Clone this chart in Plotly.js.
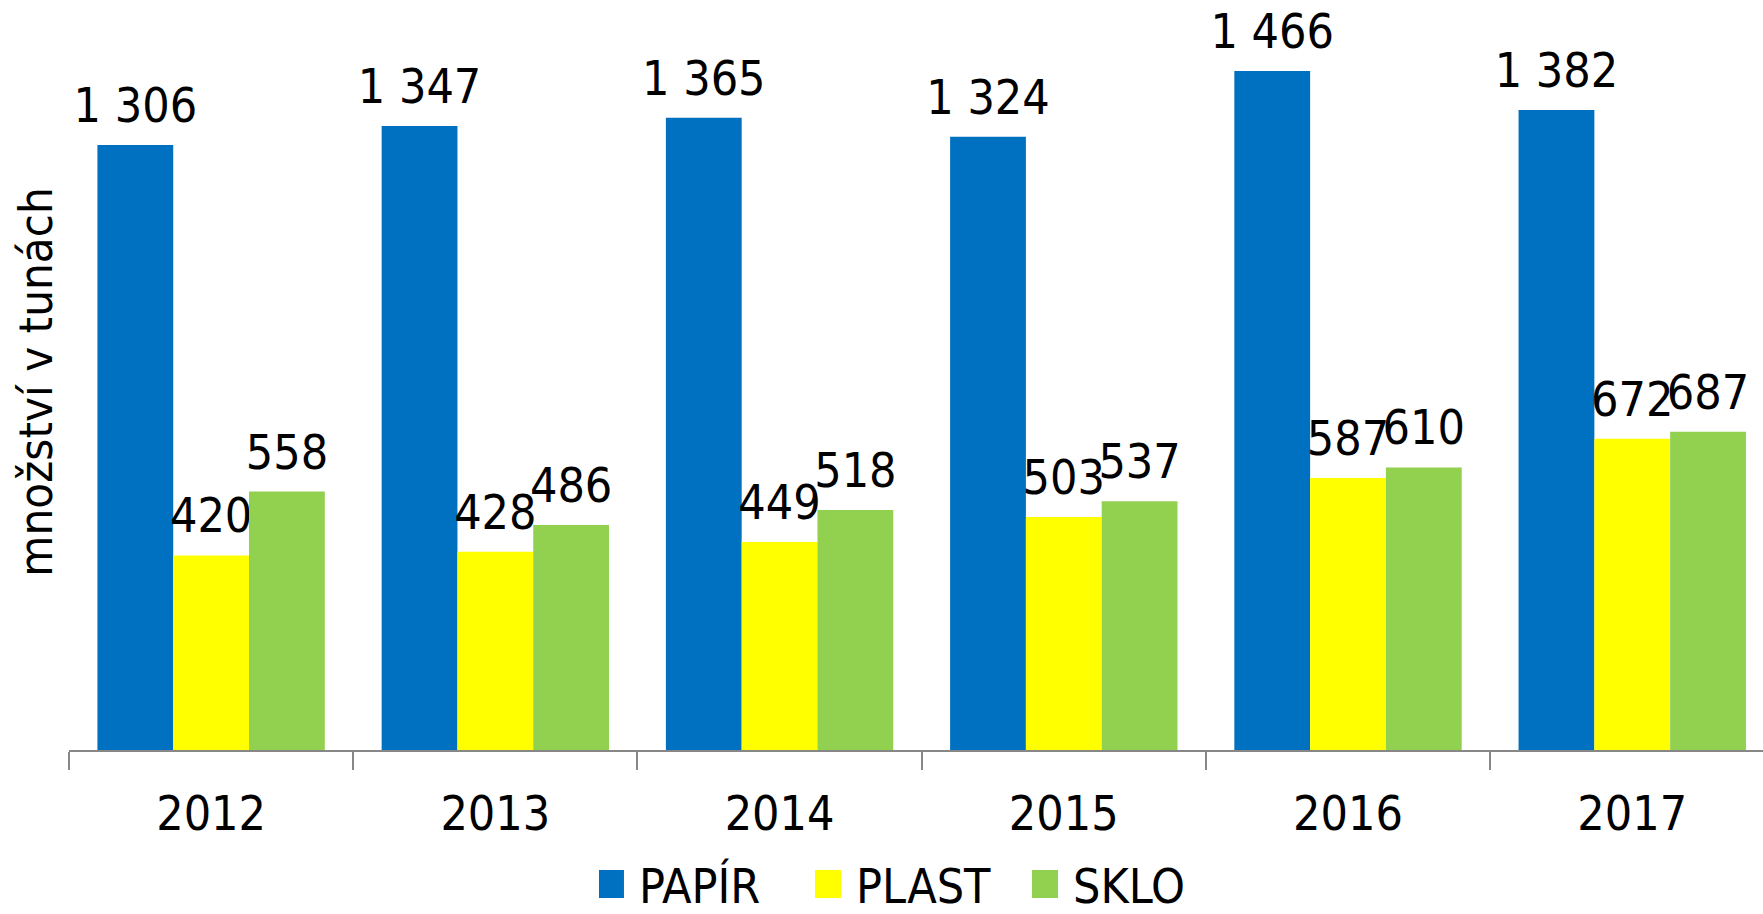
<!DOCTYPE html>
<html>
<head>
<meta charset="utf-8">
<script src="https://cdn.plot.ly/plotly-3.0.1.min.js"></script>
<style>
html,body{margin:0;padding:0;background:#fff;}
#chart{width:1763px;height:914px;}
</style>
</head>
<body>
<div id="chart"></div>
<script>
const years = ['2012', '2013', '2014', '2015', '2016', '2017'];
const papir = [1306, 1347, 1365, 1324, 1466, 1382];
const plast = [420, 428, 449, 503, 587, 672];
const sklo = [558, 486, 518, 537, 610, 687];
const seriesNames = ['PAPÍR', 'PLAST', 'SKLO'];
const seriesColors = ['#0070C0', '#FFFF00', '#92D050'];
const yTitle = 'množství v tunách';

const FONT = '"DejaVu Sans Condensed", "DejaVu Sans", sans-serif';
const labelFont = {family: FONT, size: 48, color: '#000000'};

function makeTrace(vals, i) {
  return {
    type: 'bar',
    x: years,
    y: vals,
    name: seriesNames[i],
    marker: {color: seriesColors[i], line: {width: 0}},
    texttemplate: '%{y:,}',
    textposition: 'outside',
    outsidetextfont: labelFont,
    constraintext: 'none',
    cliponaxis: false,
    hoverinfo: 'skip'
  };
}

const data = [makeTrace(papir, 0), makeTrace(plast, 1), makeTrace(sklo, 2)];

const layout = {
  width: 1763,
  height: 914,
  margin: {l: 69, r: 0, t: 14, b: 164, pad: 0},
  paper_bgcolor: '#ffffff',
  plot_bgcolor: '#ffffff',
  separators: ', ',
  barmode: 'group',
  bargap: 0.2,
  bargroupgap: 0,
  font: {family: FONT, color: '#000000', size: 48},
  showlegend: true,
  legend: {
    orientation: 'h',
    x: 0.505,
    xanchor: 'center',
    y: -0.222,
    yanchor: 'bottom',
    itemwidth: 30,
    entrywidth: 172,
    entrywidthmode: 'pixels',
    font: {family: FONT, size: 48, color: '#000000'},
    traceorder: 'normal',
    itemclick: false,
    itemdoubleclick: false
  },
  xaxis: {
    type: 'category',
    range: [-0.5, 5.46],
    showline: true,
    linecolor: '#878787',
    linewidth: 2,
    ticks: 'outside',
    tickson: 'boundaries',
    ticklen: 18,
    tickwidth: 2,
    tickcolor: '#878787',
    ticklabelstandoff: 20,
    showgrid: false,
    zeroline: false,
    tickfont: {family: FONT, size: 48, color: '#000000'},
    automargin: false
  },
  yaxis: {
    range: [0, 1589],
    showticklabels: false,
    showline: false,
    showgrid: false,
    zeroline: false,
    ticks: '',
    automargin: false,
    title: {text: yTitle, font: {family: FONT, size: 47, color: '#000000'}, standoff: 0}
  }
};

Plotly.newPlot('chart', data, layout, {staticPlot: true, displayModeBar: false}).then(function () {
  document.querySelectorAll('.legend .legendpoints path').forEach(function (p) {
    p.setAttribute('d', 'M5,14H-21V-14H5Z');
  });
  document.querySelectorAll('text.bartext').forEach(function (t) {
    t.setAttribute('transform', (t.getAttribute('transform') || '') + ' translate(0,-9)');
  });
  document.querySelectorAll('g.legend').forEach(function (g) {
    g.setAttribute('transform', (g.getAttribute('transform') || '') + ' translate(0,9)');
  });
});
</script>
</body>
</html>
